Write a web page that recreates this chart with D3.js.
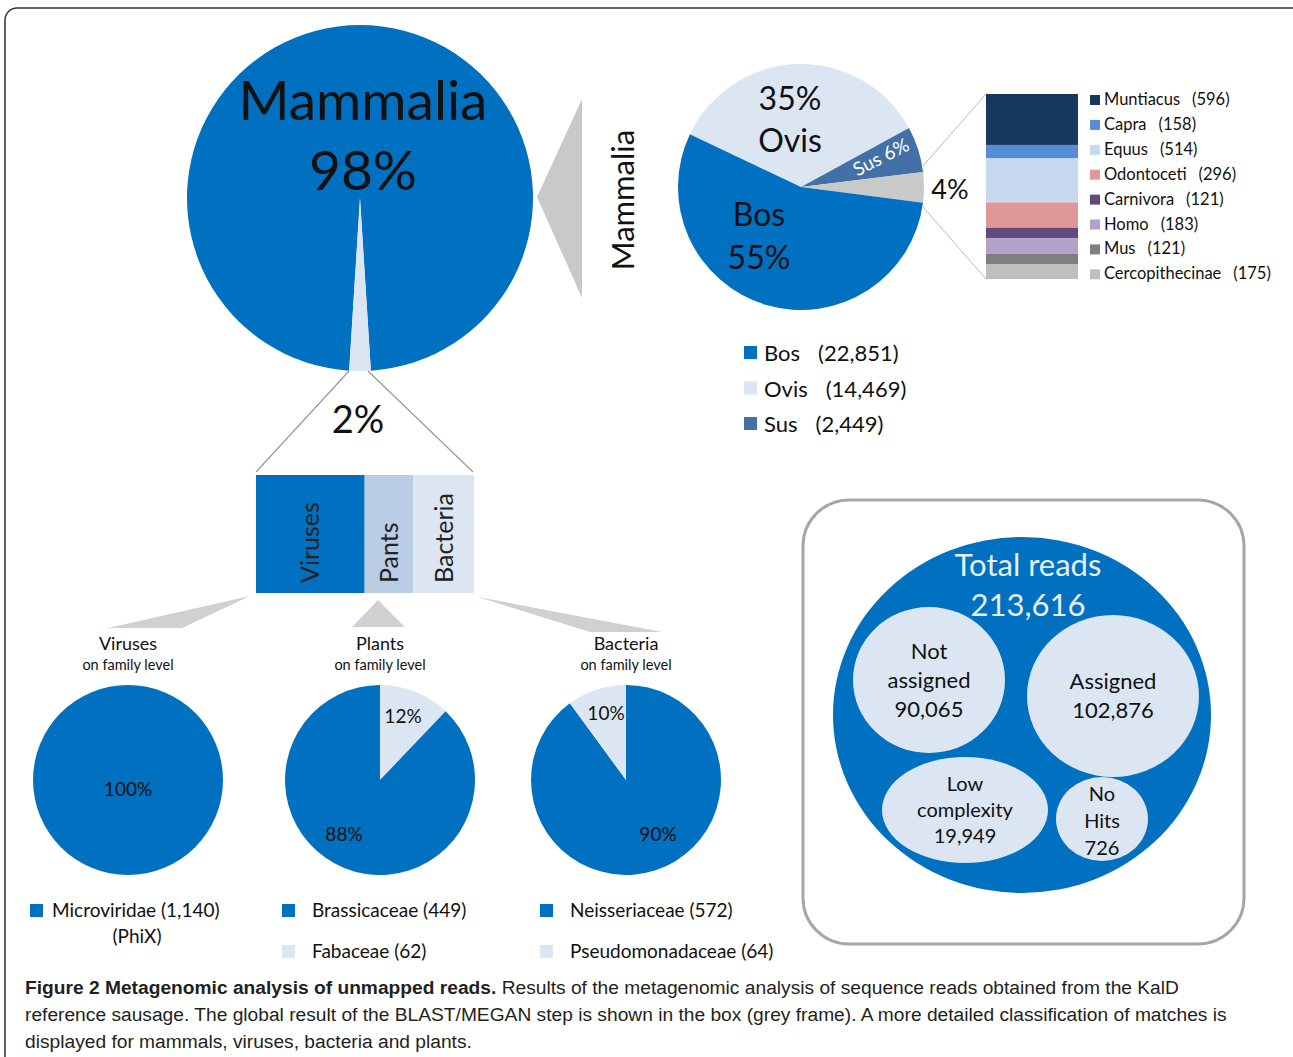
<!DOCTYPE html>
<html>
<head>
<meta charset="utf-8">
<script src="https://cdn.jsdelivr.net/npm/d3@7"></script>
<style>
  body { margin: 0; background: #fff; }
  svg { display: block; font-family: Lato, "Open Sans", sans-serif; }
</style>
</head>
<body>
<svg id="fig" width="1293" height="1057"></svg>
<script>
// datos
const mammaliaNames = ["Mammalia", "Other"];
const mammaliaShares = [98, 2];

const genusNames = ["Ovis", "Sus", "Other", "Bos"];
const genusShares = [35, 6, 4, 55];

const legendGenus = ["Bos", "Ovis", "Sus"];
const legendGenusReads = ["22,851", "14,469", "2,449"];

const otherMammals = ["Muntiacus", "Capra", "Equus", "Odontoceti", "Carnivora", "Homo", "Mus", "Cercopithecinae"];
const otherMammalReads = [596, 158, 514, 296, 121, 183, 121, 175];

const groupNames = ["Viruses", "Pants", "Bacteria"];
const groupReads = [1140, 511, 636];

const virusFamilies = ["Microviridae"];
const virusReads = [1140];
const plantFamilies = ["Fabaceae", "Brassicaceae"];
const plantReads = [62, 449];
const bacteriaFamilies = ["Neisseriaceae", "Pseudomonadaceae"];
const bacteriaReads = [572, 64];

const totalReads = "213,616";
const readClasses = ["Not assigned", "Assigned", "Low complexity", "No Hits"];
const readCounts = [90065, 102876, 19949, 726];

// colores
const BLUE = "#0070c0", LIGHT = "#dce6f2", GREY = "#c9c9c9";
const genusColor = d3.scaleOrdinal(genusNames, [LIGHT, "#4470a8", GREY, BLUE]);
const otherColor = d3.scaleOrdinal(otherMammals,
  ["#17375e", "#558ed5", "#c6d9f1", "#e09896", "#604a7b", "#b3a2c7", "#7f7f7f", "#bfbfbf"]);
const groupColor = d3.scaleOrdinal(groupNames, [BLUE, "#b9cde5", LIGHT]);

const svg = d3.select("#fig");
const fmt = d3.format(",");

// marco exterior
svg.append("rect")
  .attr("x", 5).attr("y", 8).attr("width", 1300).attr("height", 1100)
  .attr("rx", 12)
  .style("fill", "none").style("stroke", "#333").style("stroke-width", 1.5);

// helper para pies
function drawPie(g, names, values, r, start, colors) {
  const pie = d3.pie().sort(null).value(d => d.v)
    .startAngle(start).endAngle(start + 2 * Math.PI);
  const arcs = pie(names.map((n, i) => ({ n, v: values[i] })));
  g.selectAll("path").data(arcs).enter().append("path")
    .attr("d", d3.arc().innerRadius(0).outerRadius(r))
    .style("fill", d => colors(d.data.n));
  return arcs;
}

// 1) gran pie Mammalia
const big = svg.append("g").attr("transform", "translate(360,198)");
drawPie(big, mammaliaNames, mammaliaShares, 173, Math.PI * (1 + mammaliaShares[1] / 100),
  d3.scaleOrdinal(mammaliaNames, [BLUE, LIGHT]));
big.append("text").attr("x", 3).attr("y", -78).attr("text-anchor", "middle")
  .style("font-size", "55px").style("fill", "#111").text(mammaliaNames[0]);
big.append("text").attr("x", 3).attr("y", -8).attr("text-anchor", "middle")
  .style("font-size", "55px").style("fill", "#111").text(mammaliaShares[0] + "%");

// flecha gris hacia la derecha
svg.append("polygon").attr("points", "537,197 582,99 582,298").style("fill", GREY);
svg.append("text")
  .attr("transform", "translate(634,200) rotate(-90)")
  .attr("text-anchor", "middle").style("font-size", "31px").style("fill", "#111")
  .text("Mammalia");

// 2) pie de géneros
const gp = svg.append("g").attr("transform", "translate(801,187)");
const gStart = -64.6 * Math.PI / 180;
drawPie(gp, genusNames, genusShares, 123, gStart, genusColor);
gp.append("text").attr("x", -11).attr("y", -77).attr("text-anchor", "middle")
  .style("font-size", "32px").style("fill", "#111").text(genusShares[0] + "%");
gp.append("text").attr("x", -11).attr("y", -35).attr("text-anchor", "middle")
  .style("font-size", "32px").style("fill", "#111").text(genusNames[0]);
gp.append("text").attr("x", -42).attr("y", 39).attr("text-anchor", "middle")
  .style("font-size", "32px").style("fill", "#111").text(genusNames[3]);
gp.append("text").attr("x", -42).attr("y", 82).attr("text-anchor", "middle")
  .style("font-size", "32px").style("fill", "#111").text(genusShares[3] + "%");
gp.append("text").attr("transform", "translate(83,-24) rotate(-27)")
  .attr("text-anchor", "middle").style("font-size", "19px").style("fill", "#fff")
  .text(genusNames[1] + " " + genusShares[1] + "%");
gp.append("text").attr("x", 149).attr("y", 12).attr("text-anchor", "middle")
  .style("font-size", "27px").style("fill", "#111").text(genusShares[2] + "%");

// líneas hacia la barra apilada
const sb = { x: 986, y: 94, w: 92, h: 185 };
svg.append("line").attr("x1", 923).attr("y1", 166).attr("x2", sb.x).attr("y2", sb.y)
  .style("stroke", "#bbb").style("stroke-width", 1);
svg.append("line").attr("x1", 923).attr("y1", 207).attr("x2", sb.x).attr("y2", sb.y + sb.h)
  .style("stroke", "#bbb").style("stroke-width", 1);

// barra apilada del 4%
const otherStack = d3.cumsum(otherMammalReads);
const yOther = d3.scaleLinear().domain([0, d3.sum(otherMammalReads)]).range([sb.y, sb.y + sb.h]);
svg.append("g").selectAll("rect").data(otherMammals).enter().append("rect")
  .attr("x", sb.x).attr("width", sb.w)
  .attr("y", (d, i) => yOther(otherStack[i] - otherMammalReads[i]))
  .attr("height", (d, i) => yOther(otherStack[i]) - yOther(otherStack[i] - otherMammalReads[i]))
  .style("fill", d => otherColor(d));

const legO = svg.append("g").attr("transform", "translate(1090,100)");
otherMammals.forEach((m, i) => {
  const row = legO.append("g").attr("transform", `translate(0,${i * 24.9})`);
  row.append("rect").attr("x", 0).attr("y", -5).attr("width", 10).attr("height", 10)
    .style("fill", otherColor(m));
  const t = row.append("text").attr("x", 14).attr("y", 5)
    .style("font-size", "16.5px").style("fill", "#111");
  t.append("tspan").text(m);
  t.append("tspan").attr("dx", 12).text("(" + otherMammalReads[i] + ")");
});

// leyenda del pie de géneros
const legG = svg.append("g").attr("transform", "translate(744,353)");
legendGenus.forEach((g, i) => {
  const row = legG.append("g").attr("transform", `translate(0,${i * 35.5})`);
  row.append("rect").attr("x", 0).attr("y", -7).attr("width", 13).attr("height", 13)
    .style("fill", genusColor(g));
  const t = row.append("text").attr("x", 20).attr("y", 8)
    .style("font-size", "22px").style("fill", "#111");
  t.append("tspan").text(g);
  t.append("tspan").attr("dx", 18).text("(" + legendGenusReads[i] + ")");
});

// 3) el 2% y la barra horizontal
svg.append("line").attr("x1", 349).attr("y1", 371).attr("x2", 256).attr("y2", 472)
  .style("stroke", "#999").style("stroke-width", 1.2);
svg.append("line").attr("x1", 368).attr("y1", 371).attr("x2", 473).attr("y2", 472)
  .style("stroke", "#999").style("stroke-width", 1.2);
svg.append("text").attr("x", 358).attr("y", 433).attr("text-anchor", "middle")
  .style("font-size", "38px").style("fill", "#111").text(mammaliaShares[1] + "%");

const hb = { x: 256, y: 475, w: 218, h: 118 };
const groupStack = d3.cumsum(groupReads);
const xGroup = d3.scaleLinear().domain([0, d3.sum(groupReads)]).range([hb.x, hb.x + hb.w]);
const gb = svg.append("g");
groupNames.forEach((n, i) => {
  const x0 = xGroup(groupStack[i] - groupReads[i]), x1 = xGroup(groupStack[i]);
  gb.append("rect").attr("x", x0).attr("y", hb.y).attr("width", x1 - x0).attr("height", hb.h)
    .style("fill", groupColor(n));
  gb.append("text")
    .attr("transform", `translate(${(x0 + x1) / 2 + 9},${hb.y + hb.h - 10}) rotate(-90)`)
    .style("font-size", "25px").style("fill", "#222").text(n);
});

// conectores grises
svg.append("polygon").attr("points", "250,596 108,628 182,628").style("fill", "#d0d0d0");
svg.append("polygon").attr("points", "378,600 352,627 405,627").style("fill", "#d0d0d0");
svg.append("polygon").attr("points", "478,597 590,632 662,632").style("fill", "#d0d0d0");

// 4) pies por familia
function familyPanel(cx, title, names, values, start, colors, labels, legendX, legendRows) {
  const g = svg.append("g").attr("transform", `translate(${cx},780)`);
  g.append("text").attr("x", 0).attr("y", -130).attr("text-anchor", "middle")
    .style("font-size", "18px").style("fill", "#111").text(title);
  g.append("text").attr("x", 0).attr("y", -110).attr("text-anchor", "middle")
    .style("font-size", "14.5px").style("fill", "#111").text("on family level");
  const arcs = drawPie(g, names, values, 95, start, colors);
  const total = d3.sum(values);
  arcs.forEach((a, i) => {
    g.append("text").attr("x", labels[i][0]).attr("y", labels[i][1])
      .attr("text-anchor", "middle").style("font-size", "19px").style("fill", "#111")
      .text(Math.round(100 * a.data.v / total) + "%");
  });
  legendRows.forEach((r, j) => {
    const i = names.indexOf(r);
    svg.append("rect").attr("x", legendX).attr("y", 904 + j * 41).attr("width", 13).attr("height", 13)
      .style("fill", colors(r));
    svg.append("text").attr("x", legendX + (legendX < 100 ? 22 : 30)).attr("y", 917 + j * 41)
      .style("font-size", "19px").style("fill", "#111")
      .text(r + " (" + fmt(values[i]) + ")");
  });
  return g;
}

familyPanel(128, "Viruses", virusFamilies, virusReads, 0,
  d3.scaleOrdinal(virusFamilies, [BLUE]), [[0, 16]], 30, virusFamilies);
svg.append("text").attr("x", 137).attr("y", 943).attr("text-anchor", "middle")
  .style("font-size", "19px").style("fill", "#111").text("(PhiX)");

familyPanel(380, "Plants", plantFamilies, plantReads, 0,
  d3.scaleOrdinal(plantFamilies, [LIGHT, BLUE]), [[23, -57], [-36, 61]], 282,
  ["Brassicaceae", "Fabaceae"]);

familyPanel(626, "Bacteria", bacteriaFamilies, bacteriaReads, 0,
  d3.scaleOrdinal(bacteriaFamilies, [BLUE, LIGHT]), [[32, 61], [-20, -60]], 540,
  bacteriaFamilies);

// 5) caja de lecturas totales
svg.append("rect").attr("x", 803).attr("y", 500).attr("width", 441).attr("height", 444)
  .attr("rx", 46).style("fill", "none").style("stroke", "#a6a6a6").style("stroke-width", 3);
svg.append("ellipse").attr("cx", 1022).attr("cy", 715).attr("rx", 189).attr("ry", 178)
  .style("fill", BLUE);
svg.append("text").attr("x", 1028).attr("y", 576).attr("text-anchor", "middle")
  .style("font-size", "31px").style("fill", "#e8eef8").text("Total reads");
svg.append("text").attr("x", 1028).attr("y", 616).attr("text-anchor", "middle")
  .style("font-size", "31px").style("fill", "#e8eef8").text(totalReads);

const bubbles = [
  { cx: 929, cy: 680, rx: 76, ry: 73, lines: ["Not", "assigned"], dy: 29, top: 659, fs: 22 },
  { cx: 1113, cy: 696, rx: 86, ry: 81, lines: ["Assigned"], dy: 29, top: 689, fs: 22 },
  { cx: 965, cy: 810, rx: 83, ry: 53, lines: ["Low", "complexity"], dy: 26, top: 791, fs: 20 },
  { cx: 1102, cy: 819, rx: 46, ry: 42, lines: ["No", "Hits"], dy: 27, top: 801, fs: 20 }
];
bubbles.forEach((b, i) => {
  svg.append("ellipse").attr("cx", b.cx).attr("cy", b.cy).attr("rx", b.rx).attr("ry", b.ry)
    .style("fill", LIGHT);
  b.lines.concat([fmt(readCounts[i])]).forEach((l, k) => {
    svg.append("text").attr("x", b.cx).attr("y", b.top + k * b.dy).attr("text-anchor", "middle")
      .style("font-size", b.fs + "px").style("fill", "#111").text(l);
  });
});

// 6) pie de figura
const cap = svg.append("g")
  .style("font-family", "'Liberation Sans Narrow', 'Arial Narrow', sans-serif")
  .style("font-size", "19.2px").style("fill", "#231f20");
const l1 = cap.append("text").attr("x", 25).attr("y", 994);
l1.append("tspan").style("font-weight", "bold").text("Figure 2 Metagenomic analysis of unmapped reads.");
l1.append("tspan").text(" Results of the metagenomic analysis of sequence reads obtained from the KalD");
cap.append("text").attr("x", 25).attr("y", 1021)
  .text("reference sausage. The global result of the BLAST/MEGAN step is shown in the box (grey frame). A more detailed classification of matches is");
cap.append("text").attr("x", 25).attr("y", 1048)
  .text("displayed for mammals, viruses, bacteria and plants.");
</script>
</body>
</html>
